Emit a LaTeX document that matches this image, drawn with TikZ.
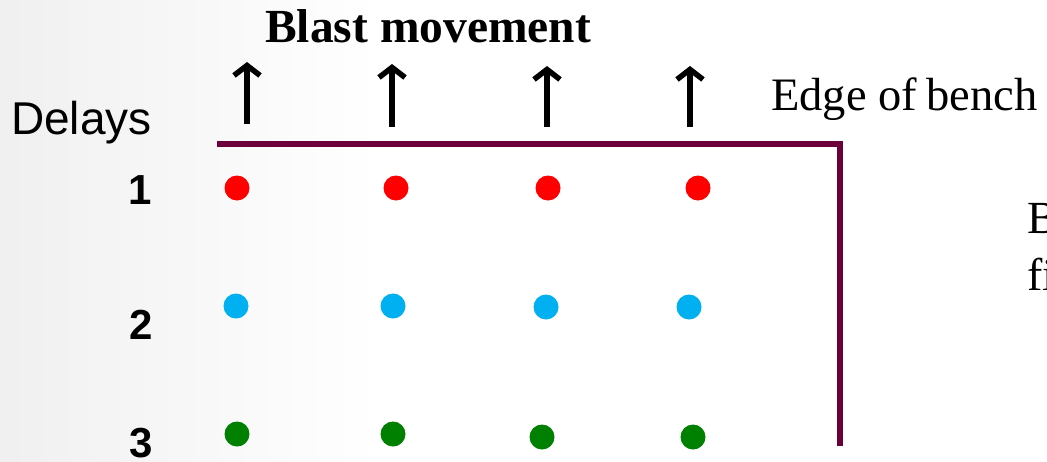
\documentclass[tikz,border=0pt]{standalone}
\usepackage{fontspec}
\setmainfont{Liberation Serif}
\newfontfamily\arialf{Liberation Sans}
\usetikzlibrary{arrows.meta}
\definecolor{bench}{RGB}{108,0,58}
\definecolor{hred}{RGB}{255,0,0}
\definecolor{hblue}{RGB}{0,176,240}
\definecolor{hgreen}{RGB}{0,128,0}
\begin{document}
\begin{tikzpicture}[x=1pt,y=-1pt,
  hole/.style={circle,inner sep=0pt,minimum size=25pt},
  mvarrow/.style={line width=5.5pt,-{Straight Barb[length=10pt,width=26pt]}},
  edgeline/.style={bench,line width=5.5pt},
  lbl/.style={inner sep=0pt,anchor=base west},
  num/.style={inner sep=0pt,anchor=base,font=\arialf\bfseries\fontsize{42}{46}\selectfont}]
\useasboundingbox (0,0) rectangle (1047,461);
\fill[white] (0,0) rectangle (1047,461);
\shade[left color=black!6,right color=white] (0,0) rectangle (380,461);

% title and labels
\node[lbl,font=\bfseries\fontsize{47.5}{52}\selectfont] (title) at (265,42) {Blast movement};
\node[lbl,font=\fontsize{46.5}{52}\selectfont] (edge) at (771,110) {Edge of\hspace{-2pt} bench};
\node[lbl,font=\arialf\fontsize{46}{52}\selectfont] (delays) at (11,134) {Delays};
\node[lbl,font=\fontsize{46}{52}\selectfont] (rb) at (1027,233) {B};
\node[lbl,font=\fontsize{46}{52}\selectfont] (rf) at (1027,290) {fi};

% delay numbers
\node[num] (d1) at (140,204) {1};
\node[num] (d2) at (141,339) {2};
\node[num] (d3) at (141,457) {3};

% bench edge
\coordinate (e1) at (217,144);
\coordinate (e2) at (840,144);
\coordinate (e3) at (840,446);
\draw[edgeline] (e1) -- (e2) -- (e3);

% movement arrows
\foreach \i/\x/\t/\b in {1/247/62/124, 2/392/64/127, 3/547/66/127, 4/690/66/127} {
  \coordinate (at\i) at (\x,\b);
  \coordinate (ah\i) at (\x,\t);
  \draw[mvarrow] (at\i) -- (ah\i);
}

% holes
\node[hole,fill=hred] (h11) at (237,188) {};
\node[hole,fill=hred] (h12) at (396,188) {};
\node[hole,fill=hred] (h13) at (548,188) {};
\node[hole,fill=hred] (h14) at (698,188) {};
\node[hole,fill=hblue] (h21) at (236,306) {};
\node[hole,fill=hblue] (h22) at (393,306) {};
\node[hole,fill=hblue] (h23) at (546,307) {};
\node[hole,fill=hblue] (h24) at (689,307) {};
\node[hole,fill=hgreen] (h31) at (237,434) {};
\node[hole,fill=hgreen] (h32) at (393,434) {};
\node[hole,fill=hgreen] (h33) at (542,437) {};
\node[hole,fill=hgreen] (h34) at (693,437) {};
\end{tikzpicture}
\end{document}
